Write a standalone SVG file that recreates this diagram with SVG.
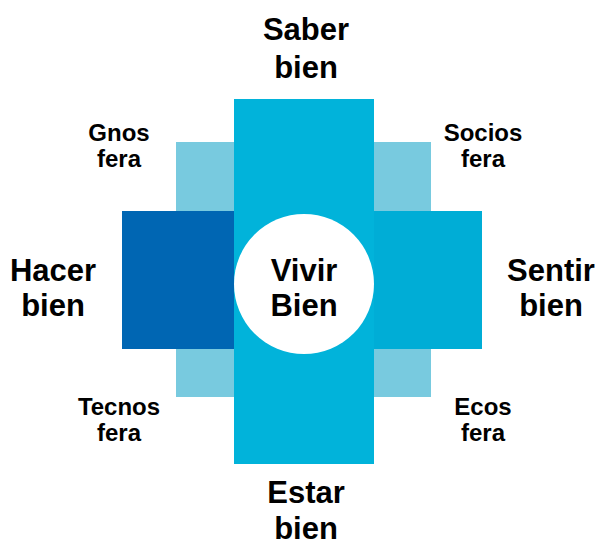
<svg xmlns="http://www.w3.org/2000/svg" width="599" height="544" viewBox="0 0 599 544">
<style>
text{font-family:"Liberation Sans",Arial,sans-serif;font-weight:bold;fill:#000;text-anchor:middle}
.big{font-size:31px}
.small{font-size:24px}
</style>
<rect width="599" height="544" fill="#fff"/>
<g id="spheres">
<rect x="176" y="142" width="255" height="255" fill="#78CADF"/>
</g>
<g id="hacer-bien"><rect x="122" y="211" width="112" height="138" fill="#0066B3"/></g>
<g id="sentir-bien"><rect x="374" y="211" width="108" height="138" fill="#00ADD6"/></g>
<g id="saber-estar"><rect x="234" y="99" width="140" height="365" fill="#01B3DA"/></g>
<g id="vivir-bien"><circle cx="304" cy="284" r="70" fill="#fff"/>
<text class="big" x="304" y="281">Vivir</text><text class="big" x="304" y="316">Bien</text></g>
<g id="connectors"></g>
<g id="labels">
<g id="saber"><text class="big" x="306" y="40">Saber</text><text class="big" x="306" y="78">bien</text></g>
<g id="estar"><text class="big" x="306" y="503">Estar</text><text class="big" x="306" y="539">bien</text></g>
<g id="hacer"><text class="big" x="53" y="281">Hacer</text><text class="big" x="53" y="316">bien</text></g>
<g id="sentir"><text class="big" x="551" y="281">Sentir</text><text class="big" x="551" y="316">bien</text></g>
<g id="gnos"><text class="small" x="119" y="141">Gnos</text><text class="small" x="119" y="167">fera</text></g>
<g id="socios"><text class="small" x="483" y="141">Socios</text><text class="small" x="483" y="167">fera</text></g>
<g id="tecnos"><text class="small" x="119" y="415">Tecnos</text><text class="small" x="119" y="441">fera</text></g>
<g id="ecos"><text class="small" x="483" y="415">Ecos</text><text class="small" x="483" y="441">fera</text></g>
</g>
</svg>
